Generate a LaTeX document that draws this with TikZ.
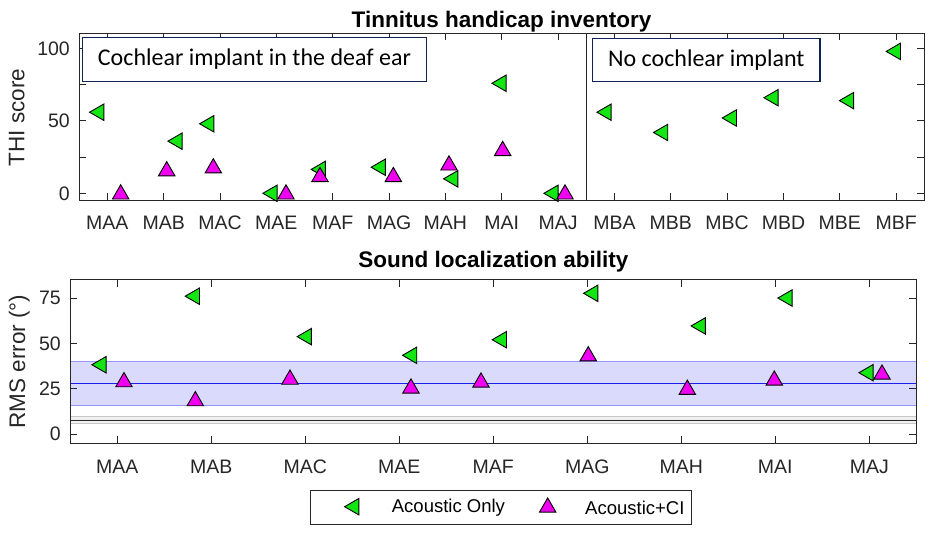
\documentclass[tikz,border=0pt]{standalone}
\usepackage{fontspec}
\setmainfont{Liberation Sans}
\newfontfamily\boxfont{Carlito}
\usetikzlibrary{shapes.geometric}

\definecolor{axgray}{RGB}{38,38,38}
\definecolor{acgreen}{RGB}{20,230,20}
\definecolor{cimag}{RGB}{240,0,240}
\definecolor{boxnavy}{RGB}{16,36,84}
\definecolor{bandfill}{RGB}{218,218,252}
\definecolor{bandedge}{RGB}{150,150,250}
\definecolor{bandmid}{RGB}{30,30,235}

\tikzset{
  ticklab/.style={font=\fontsize{19.5bp}{22bp}\selectfont, text=axgray, inner sep=0pt},
  axlab/.style={font=\fontsize{22.5bp}{25bp}\selectfont, text=axgray, inner sep=0pt},
  plottitle/.style={font=\fontsize{22.5bp}{25bp}\selectfont\bfseries, inner sep=0pt},
  legtext/.style={font=\fontsize{18.5bp}{20bp}\selectfont, inner sep=0pt, anchor=west},
  axline/.style={draw=axgray, line width=0.9bp},
  acmark/.style={regular polygon, regular polygon sides=3, shape border rotate=90,
    minimum size=19bp, inner sep=0pt, draw=black, line width=0.9bp, fill=acgreen, xshift=2.4bp},
  cimark/.style={regular polygon, regular polygon sides=3,
    minimum size=19bp, inner sep=0pt, draw=black, line width=0.9bp, fill=cimag, yshift=-2.4bp},
  groupbox/.style={draw=boxnavy, line width=1.5bp, fill=white, inner sep=0pt,
    font=\boxfont\fontsize{24bp}{26bp}\selectfont}
}

\begin{document}
\begin{tikzpicture}[x=1bp,y=-1bp]
\useasboundingbox (0,0) rectangle (942,539);

% Tinnitus handicap inventory
\node[plottitle] (title-thi) at (501.5,21.7) {Tinnitus handicap inventory};
\node[axlab, rotate=90] (ylab-thi) at (16.7,117.5) {THI score};

\begin{scope}[shift={(51,193.3)}, x=56.34bp, y=1.448bp]
\draw[axline] (0.5,-4.6) rectangle (15.5,110.7);
\draw[axline] (9.5,-4.6) -- (9.5,110.7);
\foreach \i in {1,...,15} {
  \draw[axline] (\i,-4.6) -- ++(0,7bp);
  \draw[axline] (\i,110.7) -- ++(0,-7bp);
}
\foreach \v in {0,25,...,100} {
  \draw[axline] (0.5,\v) -- ++(7bp,0);
  \draw[axline] (15.5,\v) -- ++(-7bp,0);
}
\foreach \v in {0,50,100}
  \node[ticklab, anchor=east] (ty-thi-\v) at (0.337,\v) {\v};
\foreach \lab [count=\i] in {MAA,MAB,MAC,MAE,MAF,MAG,MAH,MAI,MAJ,MBA,MBB,MBC,MBD,MBE,MBF}
  \node[ticklab] (tx-thi-\i) at (\i,-20.3) {\lab};

\foreach \x/\y [count=\n] in {0.811/56,2.201/36,2.764/48,3.887/0,4.744/16.5,5.809/18,
    7.094/10,7.952/76,8.875/0,9.816/56,10.82/42,12.04/52,12.78/66,14.12/64,14.95/98}
  \node[acmark] (thi-ac-\n) at (\x,\y) {};
\foreach \x/\y [count=\n] in {1.237/1,2.054/17,2.881/19,4.171/1,4.774/13,6.076/13,
    7.064/21,8.017/31,9.123/1}
  \node[cimark] (thi-ci-\n) at (\x,\y) {};
\end{scope}

\node[groupbox, minimum width=343.6bp, minimum height=43.6bp] (box-ci) at (254.5,59.5)
  {Cochlear implant in the deaf ear};
\node[groupbox, minimum width=227.3bp, minimum height=43.4bp] (box-noci) at (706.3,60)
  {No cochlear implant};

% Sound localization ability
\node[plottitle] (title-loc) at (493.3,261.7) {Sound localization ability};
\node[axlab, rotate=90] (ylab-loc) at (19.3,361.7) {RMS error (°)};

\begin{scope}[shift={(23.3,434)}, x=94bp, y=1.813bp]
\fill[bandfill] (0.5,15.6) rectangle (9.5,40.1);
\draw[bandedge, line width=1.3bp] (0.5,15.6) -- (9.5,15.6);
\draw[bandedge, line width=1.3bp] (0.5,40.1) -- (9.5,40.1);
\draw[bandmid, line width=1.3bp] (0.5,27.7) -- (9.5,27.7);
\fill[gray!12] (0.5,5.9) rectangle (9.5,9.5);
\draw[gray!45, line width=1.2bp] (0.5,5.9) -- (9.5,5.9);
\draw[gray!45, line width=1.2bp] (0.5,9.5) -- (9.5,9.5);
\draw[gray!30!black, line width=1bp] (0.5,7.7) -- (9.5,7.7);

\draw[axline] (0.5,-5) rectangle (9.5,85);
\foreach \i in {1,...,9} {
  \draw[axline] (\i,-5) -- ++(0,7bp);
  \draw[axline] (\i,85) -- ++(0,-7bp);
}
\foreach \v in {0,25,50,75} {
  \draw[axline] (0.5,\v) -- ++(7bp,0);
  \draw[axline] (9.5,\v) -- ++(-7bp,0);
  \node[ticklab, anchor=east] (ty-loc-\v) at (0.401,\v) {\v};
}
\foreach \lab [count=\i] in {MAA,MAB,MAC,MAE,MAF,MAG,MAH,MAI,MAJ}
  \node[ticklab] (tx-loc-\i) at (\i,-18) {\lab};

\foreach \x/\y [count=\n] in {0.805/38.2,1.798/76,2.989/53.7,4.11/43.4,5.064/52,
    6.036/77.6,7.18/59.6,8.103/75,8.965/33.8}
  \node[acmark] (loc-ac-\n) at (\x,\y) {};
\foreach \x/\y [count=\n] in {1.071/30,1.83/19.5,2.837/31.4,4.124/26.5,4.869/29.8,
    6.01/44.3,7.064/25.8,7.989/30.9,9.135/34.2}
  \node[cimark] (loc-ci-\n) at (\x,\y) {};
\end{scope}

% legend
\node[draw=axgray, line width=1bp, fill=white, minimum width=380.6bp, minimum height=34bp,
  inner sep=0pt] (legend) at (501,507) {};
\node[acmark] (leg-ac) at (351.7,506.7) {};
\node[legtext] (leg-ac-text) at (391.7,508) {Acoustic Only};
\node[cimark] (leg-ci) at (547.7,505) {};
\node[legtext] (leg-ci-text) at (585,508) {Acoustic+CI};

\end{tikzpicture}
\end{document}
